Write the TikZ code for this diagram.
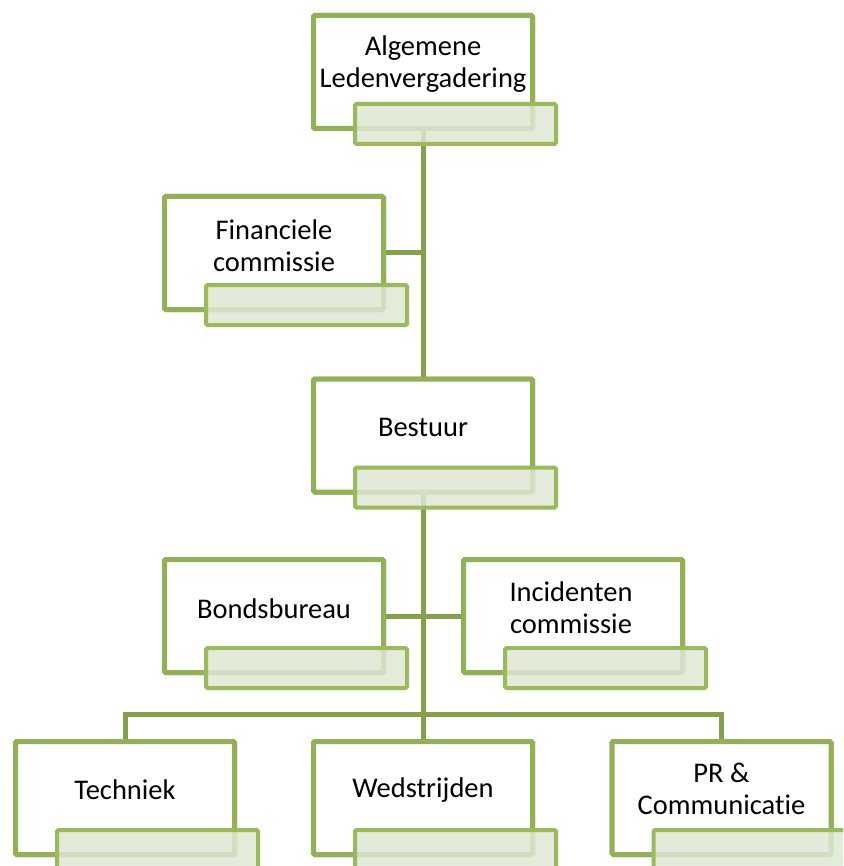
\documentclass[tikz,border=0pt]{standalone}
\usepackage{fontspec}
\setmainfont{Carlito}[Ligatures={NoCommon}]
\usetikzlibrary{calc}
\definecolor{boxline}{RGB}{146,176,84}
\definecolor{labline}{RGB}{155,187,89}
\definecolor{labfill}{RGB}{223,231,212}
\definecolor{conline}{RGB}{132,160,74}
\tikzset{
  orgbox/.style={draw=boxline, line width=5pt, fill=white, rectangle, rounded corners=1.5pt,
    minimum width=219pt, minimum height=113pt, inner sep=0pt},
  orglab/.style={draw=labline, line width=4pt, fill=labfill, fill opacity=0.85, draw opacity=1,
    rectangle, rounded corners=1.5pt, minimum width=201pt, minimum height=40pt, inner sep=0pt},
  orgtxt/.style={align=center, inner sep=0pt, font=\fontsize{28.5}{32}\selectfont, text=black},
  conn/.style={draw=conline, line width=5pt}
}
\begin{document}
\begin{tikzpicture}[x=1pt,y=-1pt]
\useasboundingbox (0,0) rectangle (843,866);
\clip (0,0) rectangle (843,866);
% boxes
\node[orgbox] (alv) at (423,72) {};
\node[orgbox] (fin) at (274,253) {};
\node[orgbox] (bestuur) at (423,435.5) {};
\node[orgbox] (bonds) at (274,616) {};
\node[orgbox] (incid) at (573,616) {};
\node[orgbox] (tech) at (125,798) {};
\node[orgbox] (wed) at (423,798) {};
\node[orgbox] (pr) at (721.5,798) {};
% connectors
\coordinate (bar) at (423,714);
\path[conn] (alv.south) -- (bestuur.north);
\path[conn] (fin.east) -- (fin.east -| alv.south);
\path[conn] (bestuur.south) -- (wed.north);
\path[conn] (bonds.east) -- (incid.west);
\path[conn] (tech.north) |- (bar) -| (pr.north);
% redraw boxes over connectors
\node[orgbox] at (alv) {};
\node[orgbox] at (fin) {};
\node[orgbox] at (bestuur) {};
\node[orgbox] at (bonds) {};
\node[orgbox] at (incid) {};
\node[orgbox] at (tech) {};
\node[orgbox] at (wed) {};
\node[orgbox] at (pr) {};
% label bars
\node[orglab] (alvlab) at ($(alv)+(32.5,52)$) {};
\node[orglab] (finlab) at ($(fin)+(32.5,52)$) {};
\node[orglab] (bestuurlab) at ($(bestuur)+(32.5,52)$) {};
\node[orglab] (bondslab) at ($(bonds)+(32.5,52)$) {};
\node[orglab] (incidlab) at ($(incid)+(32.5,52)$) {};
\node[orglab] (techlab) at ($(tech)+(32.5,52)$) {};
\node[orglab] (wedlab) at ($(wed)+(32.5,52)$) {};
\node[orglab] (prlab) at ($(pr)+(32.5,52)$) {};
% texts
\node[orgtxt] (alvt) at ($(alv)+(0,-8)$) {Algemene\\Ledenvergadering};
\node[orgtxt] (fint) at ($(fin)+(0,-7)$) {Financiele\\commissie};
\node[orgtxt] (bestuurt) at ($(bestuur)+(0,-8)$) {Bestuur};
\node[orgtxt] (bondst) at ($(bonds)+(0,-7)$) {Bondsbureau};
\node[orgtxt] (incidt) at ($(incid)+(-2,-8)$) {Incidenten\\commissie};
\node[orgtxt] (techt) at ($(tech)+(0,-8)$) {Techniek};
\node[orgtxt] (wedt) at ($(wed)+(0,-8)$) {Wedstrijden};
\node[orgtxt] (prt) at ($(pr)+(0,-9)$) {PR \&\\Communicatie};
\end{tikzpicture}
\end{document}
